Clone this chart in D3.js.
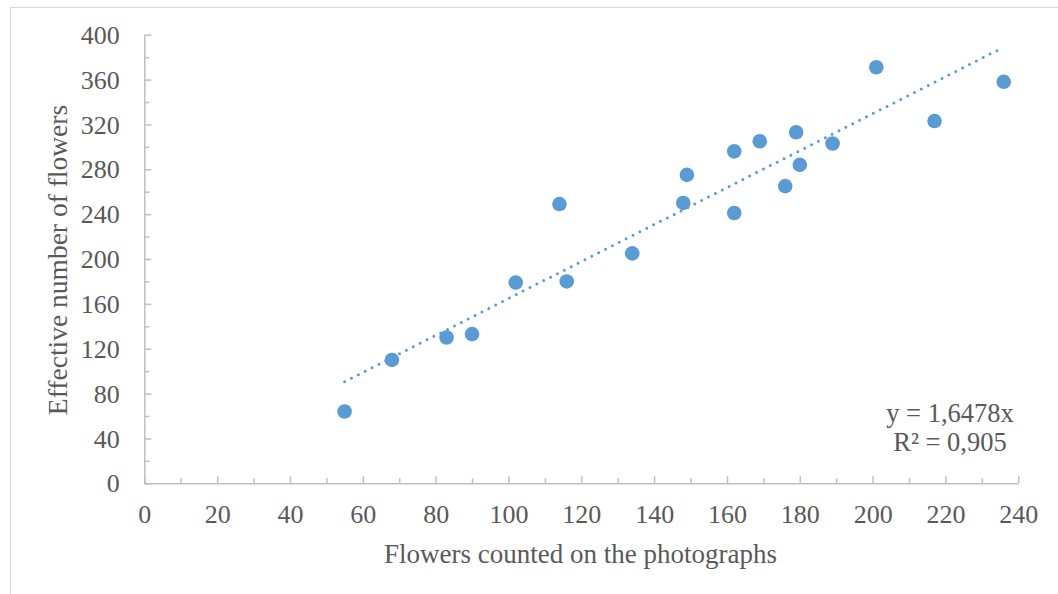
<!DOCTYPE html>
<html>
<head>
<meta charset="utf-8">
<script src="https://cdn.jsdelivr.net/npm/d3@7"></script>
<style>
  body { margin: 0; background: #fff; }
  svg text { font-family: "Liberation Serif", "Times New Roman", serif; fill: #595959; }
  .axis path, .axis line { stroke: #bfbfbf; stroke-width: 1.5; }
</style>
</head>
<body>
<svg width="1058" height="594"></svg>
<script>
// data
var photoCounts = [55, 68, 83, 90, 102, 114, 116, 134, 148, 149, 162, 162, 169, 176, 179, 180, 189, 201, 217, 236];
var effectiveCounts = [64, 110, 130, 133, 179, 249, 180, 205, 250, 275, 296, 241, 305, 265, 313, 284, 303, 371, 323, 358];
var xTicks = [0, 20, 40, 60, 80, 100, 120, 140, 160, 180, 200, 220, 240];
var yTicks = [0, 40, 80, 120, 160, 200, 240, 280, 320, 360, 400];
var slope = 1.6478;
var equationLines = ["y = 1,6478x", "R\u00b2 = 0,905"];

var svg = d3.select("svg");

// chart frame
svg.append("rect")
   .attr("x", 10.5).attr("y", 7.5)
   .attr("width", 1060).attr("height", 600)
   .style("fill", "none")
   .style("stroke", "#d9d9d9");

var x = d3.scaleLinear().domain([0, 240]).range([144.3, 1018.3]);
var y = d3.scaleLinear().domain([0, 400]).range([483.3, 34.7]);

// minor ticks first, under the major ones
svg.append("g")
   .attr("class", "axis")
   .attr("transform", "translate(0," + y(0) + ")")
   .call(d3.axisBottom(x).tickValues(d3.range(10, 240, 20)).tickSize(-5).tickFormat(""))
   .select(".domain").remove();

svg.append("g")
   .attr("class", "axis")
   .attr("transform", "translate(" + x(0) + ",0)")
   .call(d3.axisLeft(y).tickValues(d3.range(20, 400, 40)).tickSize(-5).tickFormat(""))
   .select(".domain").remove();

// x axis
var xAxis = svg.append("g")
   .attr("class", "axis")
   .attr("transform", "translate(0," + y(0) + ")")
   .call(d3.axisBottom(x).tickValues(xTicks).tickSizeInner(-7).tickSizeOuter(0));
xAxis.selectAll("text")
   .attr("y", 40).attr("dy", 0)
   .style("font-size", "26px");

// y axis
var yAxis = svg.append("g")
   .attr("class", "axis")
   .attr("transform", "translate(" + x(0) + ",0)")
   .call(d3.axisLeft(y).tickValues(yTicks).tickSizeInner(-7).tickSizeOuter(0));
yAxis.selectAll("text")
   .attr("x", -24.5).attr("dy", "0.33em")
   .style("font-size", "26px");
yAxis.selectAll("text").style("fill", "#595959");
xAxis.selectAll("text").style("fill", "#595959");

// axis titles
svg.append("text")
   .attr("x", 580.5).attr("y", 563)
   .attr("text-anchor", "middle")
   .style("font-size", "27px")
   .text("Flowers counted on the photographs");

svg.append("text")
   .attr("transform", "translate(67,260) rotate(-90)")
   .attr("text-anchor", "middle")
   .style("font-size", "27.5px")
   .text("Effective number of flowers");

// linear trendline through origin, drawn over the data range
var xExt = d3.extent(photoCounts);
var line = d3.line()
   .x(function(d) { return x(d); })
   .y(function(d) { return y(slope * d); });

svg.append("path")
   .datum(xExt)
   .attr("d", line)
   .style("fill", "none")
   .style("stroke", "#5b9bd5")
   .style("stroke-width", 3)
   .style("stroke-linecap", "round")
   .style("stroke-dasharray", "0 7.7");

// points
svg.append("g")
   .selectAll("circle")
   .data(photoCounts)
   .enter()
   .append("circle")
   .attr("cx", function(d) { return x(d); })
   .attr("cy", function(d, i) { return y(effectiveCounts[i]); })
   .attr("r", 7.3)
   .style("fill", "#5b9bd5");

// equation label
svg.append("g")
   .selectAll("text")
   .data(equationLines)
   .enter()
   .append("text")
   .attr("x", 950)
   .attr("y", function(d, i) { return 421.5 + i * 29.5; })
   .attr("text-anchor", "middle")
   .style("font-size", "26.5px")
   .text(function(d) { return d; });
</script>
</body>
</html>
